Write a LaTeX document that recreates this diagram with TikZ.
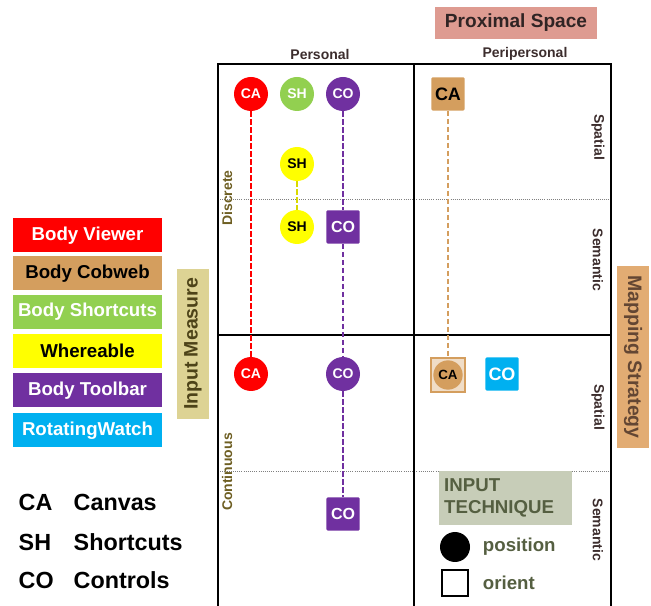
\documentclass[tikz,border=0pt]{standalone}
\usepackage{fontspec}
\setmainfont{Liberation Sans}
\usetikzlibrary{positioning}

% Colours of the six systems
\definecolor{viewerred}{RGB}{255,0,0}
\definecolor{cobwebtan}{RGB}{212,158,94}
\definecolor{shortgreen}{RGB}{146,208,80}
\definecolor{whereyellow}{RGB}{255,255,0}
\definecolor{toolpurple}{RGB}{112,48,160}
\definecolor{watchblue}{RGB}{0,176,240}
% Colours of the axis titles
\definecolor{proxpink}{RGB}{222,155,145}
\definecolor{measurebg}{RGB}{221,211,148}
\definecolor{mappingbg}{RGB}{226,172,115}
\definecolor{techbg}{RGB}{199,205,184}
\definecolor{olivetext}{RGB}{110,95,35}
\definecolor{techtext}{RGB}{85,95,65}
\definecolor{axistext}{RGB}{60,45,45}

\tikzset{
    posnode/.style={circle, minimum size=25.5pt, inner sep=0pt, text=white,
        font=\fontsize{10.5}{12}\selectfont\bfseries},
    orinode/.style={rectangle, rounded corners=1pt, minimum size=25pt, inner sep=0pt,
        text=white, font=\fontsize{12}{14}\selectfont\bfseries},
    legendbox/.style={rectangle, minimum width=111.5pt, minimum height=25.5pt,
        inner sep=0pt, font=\fontsize{14}{16}\selectfont\bfseries},
    axislabel/.style={font=\fontsize{10.5}{12}\selectfont\bfseries, text=axistext},
    abbrev/.style={anchor=west, font=\fontsize{17.5}{20}\selectfont\bfseries},
    link/.style={dash pattern=on 4pt off 2pt, line width=1.5pt}
}

\begin{document}
\begin{tikzpicture}[x=0.75pt, y=-0.75pt]
    \useasboundingbox (0,0) rectangle (651,606);

    % Grid of the four quadrants
    \draw[gray, densely dotted, line width=0.6pt] (218,199) -- (611,199);
    \draw[gray, densely dotted, line width=0.6pt] (218,471) -- (611,471);
    \draw[line width=1pt] (218,606) -- (218,64) -- (611,64) -- (611,606);
    \draw[line width=1pt] (414,64) -- (414,606);
    \draw[line width=1pt] (218,335) -- (611,335);

    % Proximal space titles
    \node[fill=proxpink, minimum width=122pt, minimum height=24pt, inner sep=0pt,
        text=axistext!80!black, font=\fontsize{14.3}{16}\selectfont\bfseries]
        (proximal) at (516,23) {Proximal Space};
    \node[axislabel] (personal) at (320,54) {Personal};
    \node[axislabel] (peripersonal) at (525,54) {Peripersonal};

    % Mapping strategy labels (right)
    \node[axislabel, rotate=-90] (spatialA) at (598,137) {Spatial};
    \node[axislabel, rotate=-90] (semanticA) at (598,260) {Semantic};
    \node[axislabel, rotate=-90] (spatialB) at (598,407) {Spatial};
    \node[axislabel, rotate=-90] (semanticB) at (598,530) {Semantic};
    \node[fill=mappingbg, rotate=-90, minimum width=137pt, minimum height=24pt, inner sep=0pt,
        text=axistext!70!brown, font=\fontsize{14.6}{17}\selectfont\bfseries]
        (mapping) at (633,357) {Mapping Strategy};

    % Input measure labels (left)
    \node[axislabel, text=olivetext, rotate=90] (discrete) at (227,198) {Discrete};
    \node[axislabel, text=olivetext, rotate=90] (continuous) at (227,472) {Continuous};
    \node[fill=measurebg, rotate=90, minimum width=112pt, minimum height=24pt, inner sep=0pt,
        text=olivetext!70!black, font=\fontsize{14.6}{17}\selectfont\bfseries]
        (measure) at (193,344) {Input Measure};

    % Personal space, discrete
    \node[posnode, fill=viewerred] (caTop) at (251,94) {CA};
    \node[posnode, fill=shortgreen] (shTop) at (297,94) {SH};
    \node[posnode, fill=toolpurple] (coTop) at (343,94) {CO};
    \node[posnode, fill=whereyellow, text=black] (shMid) at (297,164) {SH};
    \node[posnode, fill=whereyellow, text=black] (shLow) at (297,227) {SH};
    \node[orinode, fill=toolpurple] (coSqA) at (343,227) {CO};

    % Personal space, continuous
    \node[posnode, fill=viewerred] (caCont) at (251,374) {CA};
    \node[posnode, fill=toolpurple] (coCont) at (343,374) {CO};
    \node[orinode, fill=toolpurple] (coSqB) at (343,514) {CO};

    % Peripersonal space
    \node[orinode, fill=cobwebtan, text=black, font=\fontsize{13.5}{15}\selectfont\bfseries]
        (caPeri) at (448,94) {CA};
    \node[rectangle, draw=cobwebtan, line width=1.6pt, fill=cobwebtan!35, minimum size=26pt,
        inner sep=0pt] (caPeriCont) at (448,375) {};
    \node[posnode, fill=cobwebtan, minimum size=22pt, text=black,
        font=\fontsize{10}{12}\selectfont\bfseries] (caPeriDot) at (448,375) {CA};
    \node[orinode, fill=watchblue, font=\fontsize{13.5}{15}\selectfont\bfseries]
        (coPeri) at (502,374) {CO};

    % Links between the same component
    \draw[link, viewerred] (caTop) -- (caCont);
    \draw[link, whereyellow!85!black] (shMid) -- (shLow);
    \draw[link, toolpurple] (coTop) -- (coSqA) -- (coCont) -- (coSqB);
    \draw[link, cobwebtan] (caPeri) -- (caPeriCont);

    % Input technique key
    \node[fill=techbg, minimum width=100pt, minimum height=40pt, inner sep=4pt,
        align=left, text=techtext, font=\fontsize{14}{17}\selectfont\bfseries,
        text width=92pt] (technique) at (505.5,498) {INPUT\\TECHNIQUE};
    \node[circle, fill=black, minimum size=22.5pt, inner sep=0pt] (keyCircle) at (455,547) {};
    \node[right=6pt of keyCircle, text=techtext, font=\fontsize{14}{16}\selectfont\bfseries]
        (keyPosition) {position};
    \node[rectangle, draw=black, line width=1.6pt, minimum size=19pt, inner sep=0pt]
        (keySquare) at (455,583) {};
    \node[anchor=west, text=techtext, font=\fontsize{14}{16}\selectfont\bfseries]
        (keyOrient) at (keyPosition.west |- keySquare) {orient};

    % Legend of the systems
    \node[legendbox, fill=viewerred, text=white] (viewer) at (87.5,235.5) {Body Viewer};
    \node[legendbox, fill=cobwebtan, text=black] (cobweb) at (87.5,273.5) {Body Cobweb};
    \node[legendbox, fill=shortgreen, text=white] (shortcuts) at (87.5,312) {Body Shortcuts};
    \node[legendbox, fill=whereyellow, text=black] (whereable) at (87.5,351) {Whereable};
    \node[legendbox, fill=toolpurple, text=white] (toolbar) at (87.5,390.5) {Body Toolbar};
    \node[legendbox, fill=watchblue, text=white] (watch) at (87.5,430.5) {RotatingWatch};

    % Abbreviations
    \node[abbrev] (abbCA) at (14,502) {CA};
    \node[abbrev] (abbSH) at (14,542) {SH};
    \node[abbrev] (abbCO) at (14,580) {CO};
    \node[abbrev] (canvas) at (69,502) {Canvas};
    \node[abbrev] (shortcutsTxt) at (69,542) {Shortcuts};
    \node[abbrev] (controls) at (69,580) {Controls};
\end{tikzpicture}
\end{document}
